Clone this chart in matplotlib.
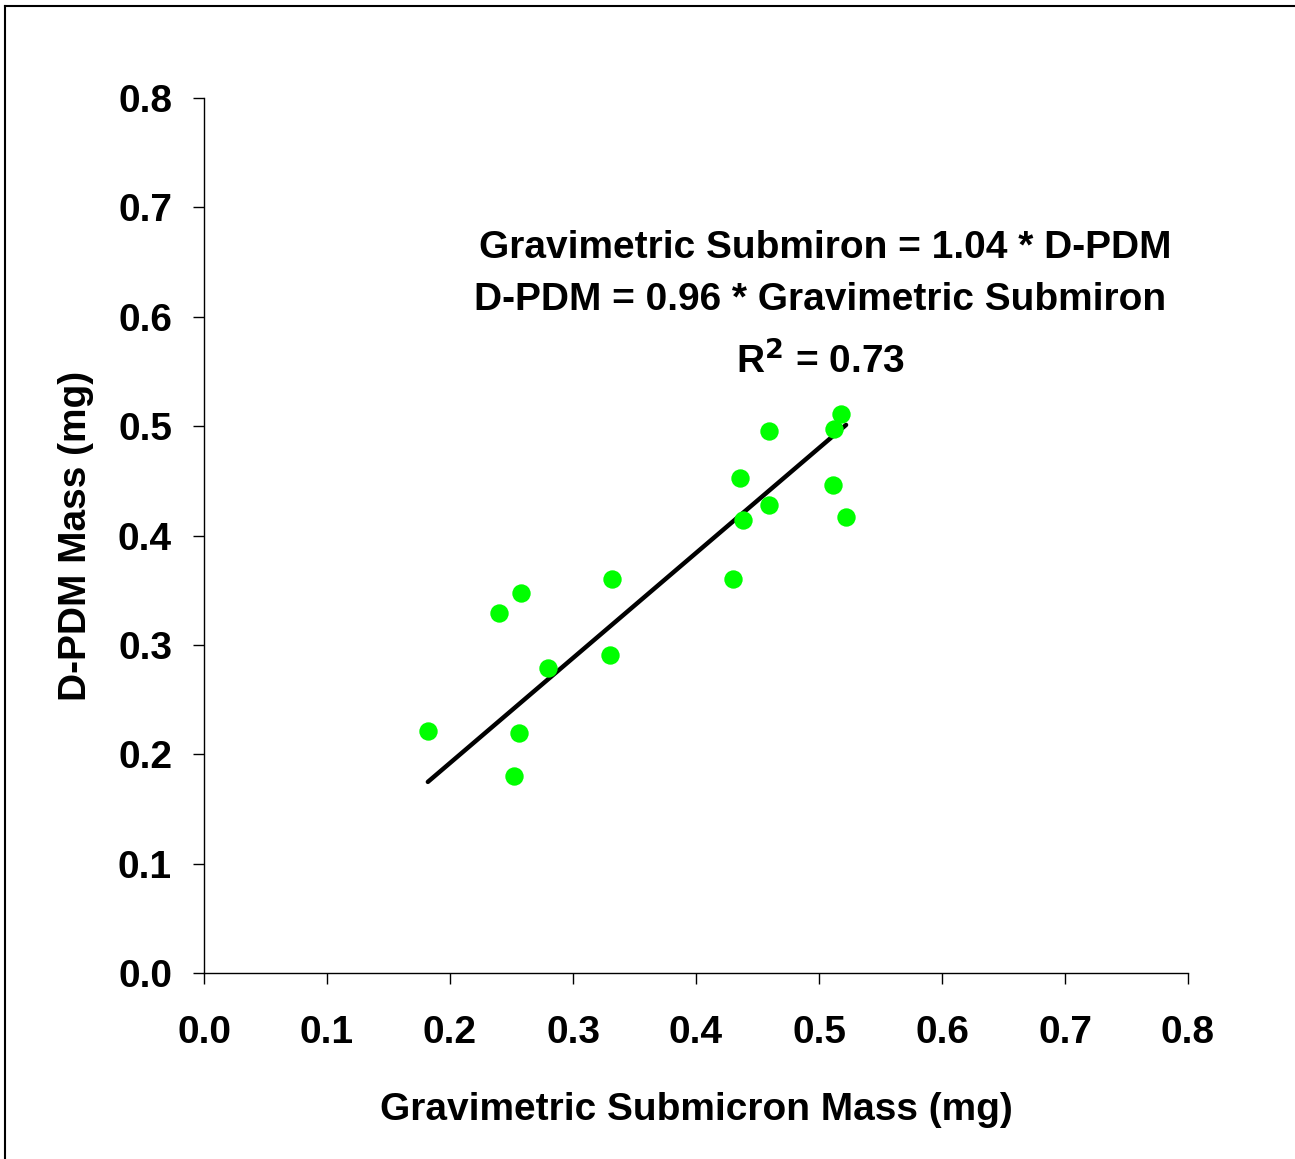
import matplotlib
matplotlib.use("Agg")
import matplotlib.pyplot as plt
from matplotlib.lines import Line2D
import numpy as np

plt.rcParams["font.family"] = ["Liberation Sans", "DejaVu Sans"]
plt.rcParams["font.weight"] = "bold"

# gravimetric submicron mass vs D-PDM mass (mg)
grav_mass = [0.182, 0.240, 0.258, 0.280, 0.256, 0.252, 0.332, 0.330, 0.430,
             0.436, 0.438, 0.459, 0.459, 0.511, 0.512, 0.518, 0.522]
dpdm_mass = [0.221, 0.329, 0.347, 0.279, 0.219, 0.180, 0.360, 0.291, 0.360,
             0.453, 0.414, 0.496, 0.428, 0.446, 0.497, 0.511, 0.417]
slope = 0.96
tick_vals = [0.0, 0.1, 0.2, 0.3, 0.4, 0.5, 0.6, 0.7, 0.8]
tick_labels = ["0.0", "0.1", "0.2", "0.3", "0.4", "0.5", "0.6", "0.7", "0.8"]

fig = plt.figure(figsize=(12.95, 11.59), dpi=100)
ax = fig.add_axes([204 / 1295, 1 - 973 / 1159, 984 / 1295, 875 / 1159])

x = np.array(grav_mass)
ax.scatter(x, dpdm_mass, s=175, color="#00ff00", zorder=3, linewidths=0)
xf = np.array([x.min(), x.max()])
ax.plot(xf, slope * xf, color="black", lw=3.2, solid_capstyle="round", zorder=2)

ax.set_xlim(0, 0.8)
ax.set_ylim(0, 0.8)
ax.set_xticks(tick_vals)
ax.set_xticklabels(tick_labels)
ax.set_yticks(tick_vals)
ax.set_yticklabels(tick_labels)
ax.tick_params(direction="out", length=8, width=1, labelsize=28)
ax.tick_params(axis="x", pad=22)
ax.tick_params(axis="y", pad=15)
for side in ("top", "right"):
    ax.spines[side].set_visible(False)
for side in ("left", "bottom"):
    ax.spines[side].set_linewidth(1)

ax.set_xlabel("Gravimetric Submicron Mass (mg)", fontsize=28, fontweight="bold", labelpad=30)
ax.set_ylabel("D-PDM Mass (mg)", fontsize=28, fontweight="bold", labelpad=17)

ax.text(0.505, 0.663, "Gravimetric Submiron = 1.04 * D-PDM", fontsize=28,
        fontweight="bold", ha="center", va="center")
ax.text(0.501, 0.615, "D-PDM = 0.96 * Gravimetric Submiron", fontsize=28,
        fontweight="bold", ha="center", va="center")
ax.text(0.501, 0.559, r"R$^\mathbf{2}$ = 0.73", fontsize=28,
        fontweight="bold", ha="center", va="center")

# page frame
fig.add_artist(Line2D([5 / 1295, 1], [1 - 6 / 1159, 1 - 6 / 1159], color="black", lw=1.5))
fig.add_artist(Line2D([5 / 1295, 5 / 1295], [0, 1 - 6 / 1159], color="black", lw=1.5))

fig.savefig("out.png", dpi=100)
